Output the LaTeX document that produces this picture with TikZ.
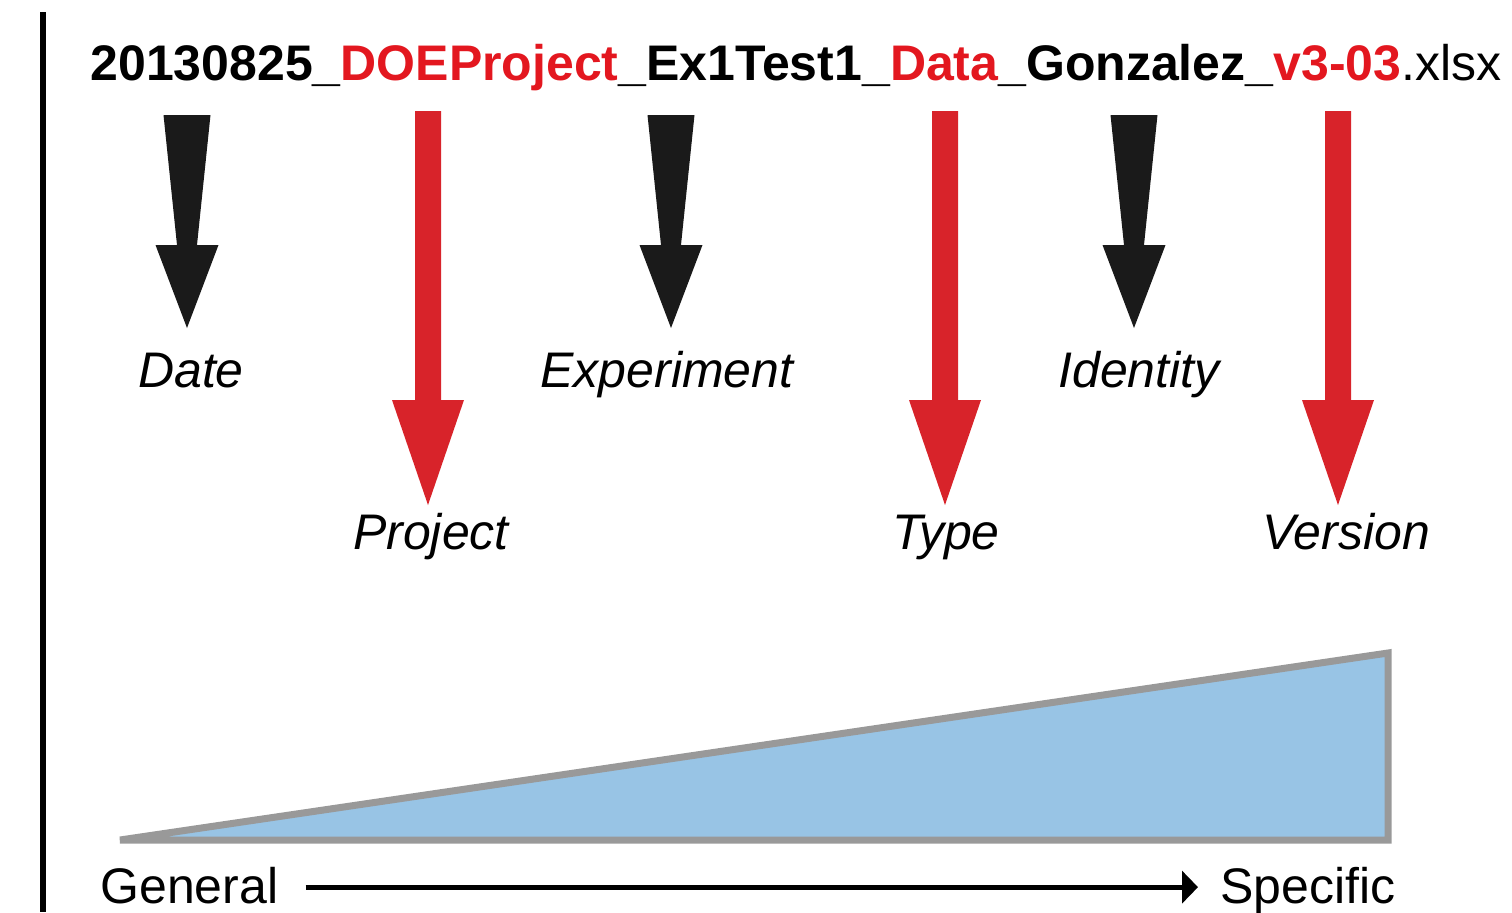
\documentclass[tikz,border=0pt]{standalone}
\usepackage{fontspec}
\setmainfont{Liberation Sans}
\usetikzlibrary{arrows.meta,calc}

\definecolor{fnred}{HTML}{E3171F}
\definecolor{arrred}{HTML}{D8232A}
\definecolor{arrblack}{HTML}{1A1A1A}
\definecolor{wedgefill}{HTML}{98C4E5}
\definecolor{wedgeline}{HTML}{999999}

% Fat arrow from coordinate #2 (top of shaft) to coordinate #3 (tip);
% #4 y of head base, #5/#6 half shaft width at top/bottom, #7 half head width
\newcommand\fatarrow[7]{%
  \fill[#1] ($(#2)+(-#5,0)$) -- ($(#2)+(#5,0)$) -- ($(#2|-0,#4)+(#6,0)$)
    -- ($(#2|-0,#4)+(#7,0)$) -- (#3) -- ($(#2|-0,#4)+(-#7,0)$)
    -- ($(#2|-0,#4)+(-#6,0)$) -- cycle;}

\begin{document}
\begin{tikzpicture}[x=0.5pt,y=-0.5pt,
  every node/.style={inner sep=0pt,font=\fontsize{25}{30}\selectfont},
  field/.style={font=\fontsize{25}{30}\selectfont\itshape,anchor=base},
  scale label/.style={font=\fontsize{25}{30}\selectfont,anchor=base west}]
  \useasboundingbox (0,0) rectangle (1512,912);

  % left rule
  \draw[line width=3pt] (43,12) -- (43,912);

  % file name
  \node[anchor=base west] (fname) at (90,80)
    {\bfseries 20130825\_\textcolor{fnred}{DOEProject}\_Ex1Test1\_\textcolor{fnred}{Data}\_Gonzalez\_\textcolor{fnred}{v3-03}\mdseries.xlsx};

  % arrow anchors: shaft tops and tips
  \coordinate (dateT) at (187,115);  \coordinate (dateE) at (187,328);
  \coordinate (projT) at (428,111);  \coordinate (projE) at (428,505);
  \coordinate (expT)  at (671,115);  \coordinate (expE)  at (671,328);
  \coordinate (typeT) at (945,111);  \coordinate (typeE) at (945,505);
  \coordinate (idT)   at (1134,115); \coordinate (idE)   at (1134,328);
  \coordinate (verT)  at (1338,111); \coordinate (verE)  at (1338,505);

  \fatarrow{arrblack}{dateT}{dateE}{245}{23.5}{10}{31.5}
  \fatarrow{arrblack}{expT}{expE}{245}{23.5}{10}{31.5}
  \fatarrow{arrblack}{idT}{idE}{245}{23.5}{10}{31.5}
  \fatarrow{arrred}{projT}{projE}{400}{13}{13}{36}
  \fatarrow{arrred}{typeT}{typeE}{400}{13}{13}{36}
  \fatarrow{arrred}{verT}{verE}{400}{13}{13}{36}

  % field names
  \node[field] (date)  at (191,387)  {Date};
  \node[field] (exp)   at (667,387)  {Experiment};
  \node[field] (ident) at (1139,387) {Identity};
  \node[field] (proj)  at (431,549)  {Project};
  \node[field] (type)  at (946,549)  {Type};
  \node[field] (ver)   at (1346,549) {Version};

  % specificity wedge
  \draw[wedgeline,fill=wedgefill,line width=3.5pt,line join=miter]
    (120,840) -- (1388,653) -- (1388,840) -- cycle;

  % general -> specific scale
  \node[scale label] (gen)  at (100,903)  {General};
  \node[scale label] (spec) at (1220,903) {Specific};
  \draw[line width=2.5pt,-{Triangle[length=8pt,width=16pt]},
        shorten <=13.5pt,shorten >=11pt]
    ([yshift=-1pt]gen.east) -- ([yshift=-1pt]gen.east -| spec.west);
\end{tikzpicture}
\end{document}
